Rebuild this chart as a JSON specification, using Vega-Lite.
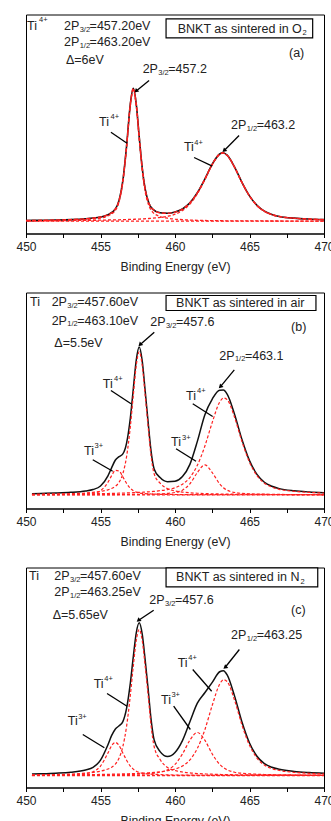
{
"$schema": "https://vega.github.io/schema/vega-lite/v6.json",
"padding": {"left": 15, "top": 13.5, "right": 0, "bottom": 0},
"background": "white",
"spacing": 18,
"config": {
  "font": "Liberation Sans",
  "view": {"stroke": "#000", "strokeWidth": 1},
  "axis": {"grid": false, "domainColor": "#000", "domainWidth": 1, "tickColor": "#000", "tickSize": 4, "tickWidth": 1, "labelFontSize": 12, "labelColor": "#222", "labelPadding": 4, "labelFlush": false, "labelOverlap": false, "titleFontSize": 12.3, "titleFontWeight": "normal", "titleColor": "#222", "titlePadding": 7, "minExtent": 20, "maxExtent": 20},
  "line": {"interpolate": "monotone"}
},
"datasets": {
  "spec": [
    {"p":"a","x":450,"env":0.75,"c1":0.33,"c2":0.42},
    {"p":"a","x":451,"env":0.9,"c1":0.42,"c2":0.48},
    {"p":"a","x":452,"env":1.18,"c1":0.62,"c2":0.56},
    {"p":"a","x":453,"env":1.61,"c1":0.94,"c2":0.67},
    {"p":"a","x":454,"env":2.43,"c1":1.59,"c2":0.84},
    {"p":"a","x":454.5,"env":3.12,"c1":2.2,"c2":0.92},
    {"p":"a","x":455,"env":4.25,"c1":3.2,"c2":1.05},
    {"p":"a","x":455.5,"env":6.48,"c1":5.3,"c2":1.18},
    {"p":"a","x":456,"env":12.22,"c1":10.9,"c2":1.32},
    {"p":"a","x":456.25,"env":21.0,"c1":19.6,"c2":1.42},
    {"p":"a","x":456.5,"env":40.5,"c1":39.0,"c2":1.54},
    {"p":"a","x":456.75,"env":75.1,"c1":73.5,"c2":1.64},
    {"p":"a","x":457,"env":116.9,"c1":115.1,"c2":1.77},
    {"p":"a","x":457.2,"env":132.9,"c1":131,"c2":1.89},
    {"p":"a","x":457.4,"env":117.1,"c1":115.1,"c2":2.0},
    {"p":"a","x":457.6,"env":84.1,"c1":82.0,"c2":2.13},
    {"p":"a","x":457.8,"env":53.3,"c1":51.0,"c2":2.28},
    {"p":"a","x":458,"env":32.0,"c1":29.5,"c2":2.46},
    {"p":"a","x":458.25,"env":18.0,"c1":15.3,"c2":2.72},
    {"p":"a","x":458.5,"env":12.1,"c1":9.1,"c2":2.99},
    {"p":"a","x":459,"env":8.4,"c1":4.7,"c2":3.73},
    {"p":"a","x":459.5,"env":7.9,"c1":3.0,"c2":4.89},
    {"p":"a","x":460,"env":9.1,"c1":2.1,"c2":7.0},
    {"p":"a","x":460.5,"env":12.2,"c1":1.5,"c2":10.7},
    {"p":"a","x":461,"env":18.3,"c1":1.1,"c2":17.2},
    {"p":"a","x":461.5,"env":28.4,"c1":0.9,"c2":27.5},
    {"p":"a","x":462,"env":42.0,"c1":0.7,"c2":41.3},
    {"p":"a","x":462.5,"env":57.1,"c1":0.6,"c2":56.5},
    {"p":"a","x":463,"env":67.2,"c1":0.5,"c2":66.7},
    {"p":"a","x":463.2,"env":68.45,"c1":0.45,"c2":68},
    {"p":"a","x":463.5,"env":66.0,"c1":0.4,"c2":65.6},
    {"p":"a","x":464,"env":54.05,"c1":0.35,"c2":53.7},
    {"p":"a","x":464.5,"env":38.6,"c1":0.3,"c2":38.3},
    {"p":"a","x":465,"env":25.27,"c1":0.27,"c2":25.0},
    {"p":"a","x":465.5,"env":15.85,"c1":0.25,"c2":15.6},
    {"p":"a","x":466,"env":10.02,"c1":0.22,"c2":9.8},
    {"p":"a","x":466.5,"env":6.7,"c1":0.2,"c2":6.5},
    {"p":"a","x":467,"env":4.78,"c1":0.18,"c2":4.6},
    {"p":"a","x":468,"env":3.06,"c1":0.16,"c2":2.9},
    {"p":"a","x":469,"env":2.14,"c1":0.14,"c2":2.0},
    {"p":"a","x":470,"env":1.58,"c1":0.12,"c2":1.46},

    {"p":"b","x":450.4,"env":1.14,"c1":0.45,"c2":0.14,"c3":0.48,"c4":0.07},
    {"p":"b","x":451,"env":1.35,"c1":0.54,"c2":0.18,"c3":0.55,"c4":0.08},
    {"p":"b","x":452,"env":1.77,"c1":0.76,"c2":0.26,"c3":0.65,"c4":0.1},
    {"p":"b","x":453,"env":2.45,"c1":1.1,"c2":0.46,"c3":0.77,"c4":0.12},
    {"p":"b","x":454,"env":3.83,"c1":1.8,"c2":0.95,"c3":0.93,"c4":0.15},
    {"p":"b","x":454.5,"env":5.25,"c1":2.45,"c2":1.6,"c3":1.03,"c4":0.17},
    {"p":"b","x":455,"env":8.81,"c1":3.33,"c2":4.1,"c3":1.18,"c4":0.2},
    {"p":"b","x":455.5,"env":19.02,"c1":4.98,"c2":12.5,"c3":1.31,"c4":0.23},
    {"p":"b","x":455.75,"env":27.21,"c1":6.38,"c2":19.2,"c3":1.39,"c4":0.24},
    {"p":"b","x":456,"env":34.79,"c1":8.54,"c2":24.5,"c3":1.49,"c4":0.26},
    {"p":"b","x":456.25,"env":38.16,"c1":12.6,"c2":23.7,"c3":1.58,"c4":0.28},
    {"p":"b","x":456.5,"env":40.91,"c1":21.0,"c2":17.9,"c3":1.7,"c4":0.31},
    {"p":"b","x":456.75,"env":51.76,"c1":38.2,"c2":11.4,"c3":1.83,"c4":0.33},
    {"p":"b","x":457,"env":76.57,"c1":67.7,"c2":6.5,"c3":1.99,"c4":0.38},
    {"p":"b","x":457.2,"env":105.8,"c1":99.2,"c2":4.1,"c3":2.1,"c4":0.4},
    {"p":"b","x":457.4,"env":134.78,"c1":129.4,"c2":2.7,"c3":2.25,"c4":0.43},
    {"p":"b","x":457.6,"env":147.79,"c1":143,"c2":1.9,"c3":2.39,"c4":0.5},
    {"p":"b","x":457.8,"env":133.93,"c1":129.4,"c2":1.44,"c3":2.56,"c4":0.53},
    {"p":"b","x":458,"env":103.67,"c1":99.2,"c2":1.14,"c3":2.75,"c4":0.58},
    {"p":"b","x":458.2,"env":72.19,"c1":67.7,"c2":0.95,"c3":2.92,"c4":0.62},
    {"p":"b","x":458.4,"env":42.86,"c1":38.2,"c2":0.8,"c3":3.15,"c4":0.71},
    {"p":"b","x":458.6,"env":25.91,"c1":21.0,"c2":0.69,"c3":3.45,"c4":0.77},
    {"p":"b","x":459,"env":17.23,"c1":11.6,"c2":0.51,"c3":4.13,"c4":0.99},
    {"p":"b","x":459.5,"env":13.11,"c1":6.1,"c2":0.39,"c3":5.24,"c4":1.38},
    {"p":"b","x":460,"env":13.55,"c1":3.9,"c2":0.3,"c3":7.06,"c4":2.29},
    {"p":"b","x":460.5,"env":18.22,"c1":2.7,"c2":0.23,"c3":10.65,"c4":4.64},
    {"p":"b","x":461,"env":30.43,"c1":2.0,"c2":0.19,"c3":17.29,"c4":10.95},
    {"p":"b","x":461.5,"env":53.41,"c1":1.54,"c2":0.15,"c3":29.52,"c4":22.2},
    {"p":"b","x":462,"env":79.83,"c1":1.2,"c2":0.13,"c3":48.5,"c4":30},
    {"p":"b","x":462.5,"env":95.74,"c1":1.0,"c2":0.11,"c3":72.43,"c4":22.2},
    {"p":"b","x":463,"env":104.65,"c1":0.82,"c2":0.1,"c3":92.78,"c4":10.95},
    {"p":"b","x":463.25,"env":104.72,"c1":0.74,"c2":0.09,"c3":96.79,"c4":7.1},
    {"p":"b","x":463.5,"env":100.62,"c1":0.69,"c2":0.09,"c3":95.2,"c4":4.64},
    {"p":"b","x":464,"env":80.33,"c1":0.57,"c2":0.08,"c3":77.39,"c4":2.29},
    {"p":"b","x":464.5,"env":54.97,"c1":0.49,"c2":0.07,"c3":53.03,"c4":1.38},
    {"p":"b","x":465,"env":34.16,"c1":0.43,"c2":0.06,"c3":32.68,"c4":0.99},
    {"p":"b","x":465.5,"env":20.38,"c1":0.39,"c2":0.06,"c3":19.19,"c4":0.74},
    {"p":"b","x":466,"env":12.58,"c1":0.35,"c2":0.05,"c3":11.6,"c4":0.58},
    {"p":"b","x":466.5,"env":8.56,"c1":0.31,"c2":0.05,"c3":7.7,"c4":0.5},
    {"p":"b","x":467,"env":6.18,"c1":0.28,"c2":0.04,"c3":5.48,"c4":0.38},
    {"p":"b","x":468,"env":3.98,"c1":0.24,"c2":0.03,"c3":3.45,"c4":0.26},
    {"p":"b","x":469,"env":2.83,"c1":0.21,"c2":0.03,"c3":2.39,"c4":0.2},
    {"p":"b","x":470,"env":2.11,"c1":0.18,"c2":0.02,"c3":1.76,"c4":0.15},

    {"p":"c","x":450.4,"env":1.46,"c1":0.57,"c2":0.26,"c3":0.45,"c4":0.18},
    {"p":"c","x":451,"env":1.74,"c1":0.72,"c2":0.32,"c3":0.5,"c4":0.2},
    {"p":"c","x":452,"env":2.33,"c1":0.99,"c2":0.5,"c3":0.6,"c4":0.24},
    {"p":"c","x":453,"env":3.28,"c1":1.43,"c2":0.84,"c3":0.71,"c4":0.3},
    {"p":"c","x":454,"env":5.5,"c1":2.37,"c2":1.89,"c3":0.86,"c4":0.38},
    {"p":"c","x":454.5,"env":8.11,"c1":3.07,"c2":3.66,"c3":0.95,"c4":0.43},
    {"p":"c","x":455,"env":15.34,"c1":4.29,"c2":9.46,"c3":1.08,"c4":0.51},
    {"p":"c","x":455.5,"env":30.79,"c1":6.5,"c2":22.5,"c3":1.21,"c4":0.58},
    {"p":"c","x":455.75,"env":40.07,"c1":8.26,"c2":29.9,"c3":1.28,"c4":0.63},
    {"p":"c","x":456,"env":46.56,"c1":11.5,"c2":33,"c3":1.36,"c4":0.7},
    {"p":"c","x":456.25,"env":49.71,"c1":17.6,"c2":29.9,"c3":1.46,"c4":0.75},
    {"p":"c","x":456.5,"env":53.89,"c1":29.0,"c2":22.5,"c3":1.56,"c4":0.83},
    {"p":"c","x":456.75,"env":67.1,"c1":49.2,"c2":15.3,"c3":1.68,"c4":0.92},
    {"p":"c","x":457,"env":92.18,"c1":79.9,"c2":9.46,"c3":1.81,"c4":1.01},
    {"p":"c","x":457.2,"env":118.54,"c1":109.1,"c2":6.4,"c3":1.93,"c4":1.11},
    {"p":"c","x":457.4,"env":142.69,"c1":135.1,"c2":4.33,"c3":2.05,"c4":1.21},
    {"p":"c","x":457.6,"env":152.63,"c1":146,"c2":3.1,"c3":2.2,"c4":1.33},
    {"p":"c","x":457.8,"env":141.27,"c1":135.1,"c2":2.34,"c3":2.37,"c4":1.46},
    {"p":"c","x":458,"env":115.16,"c1":109.1,"c2":1.89,"c3":2.54,"c4":1.63},
    {"p":"c","x":458.2,"env":86.0,"c1":79.9,"c2":1.54,"c3":2.73,"c4":1.83},
    {"p":"c","x":458.4,"env":55.45,"c1":49.2,"c2":1.3,"c3":2.89,"c4":2.06},
    {"p":"c","x":458.6,"env":35.6,"c1":29.0,"c2":1.12,"c3":3.12,"c4":2.36},
    {"p":"c","x":459,"env":23.9,"c1":16.0,"c2":0.84,"c3":3.78,"c4":3.28},
    {"p":"c","x":459.5,"env":18.96,"c1":7.9,"c2":0.63,"c3":4.78,"c4":5.65},
    {"p":"c","x":460,"env":23.05,"c1":5.0,"c2":0.5,"c3":6.45,"c4":11.1},
    {"p":"c","x":460.5,"env":34.91,"c1":3.5,"c2":0.4,"c3":9.51,"c4":21.5},
    {"p":"c","x":461,"env":53.78,"c1":2.56,"c2":0.32,"c3":15.6,"c4":35.3},
    {"p":"c","x":461.5,"env":72.34,"c1":1.97,"c2":0.27,"c3":27.1,"c4":43},
    {"p":"c","x":462,"env":82.71,"c1":1.58,"c2":0.23,"c3":45.6,"c4":35.3},
    {"p":"c","x":462.5,"env":93.18,"c1":1.28,"c2":0.2,"c3":70.2,"c4":21.5},
    {"p":"c","x":463,"env":103.75,"c1":1.07,"c2":0.18,"c3":91.4,"c4":11.1},
    {"p":"c","x":463.25,"env":104.85,"c1":0.98,"c2":0.17,"c3":95.8,"c4":7.9},
    {"p":"c","x":463.5,"env":100.6,"c1":0.89,"c2":0.16,"c3":93.9,"c4":5.65},
    {"p":"c","x":464,"env":79.38,"c1":0.76,"c2":0.14,"c3":75.2,"c4":3.28},
    {"p":"c","x":464.5,"env":53.18,"c1":0.66,"c2":0.13,"c3":50.2,"c4":2.19},
    {"p":"c","x":465,"env":32.52,"c1":0.57,"c2":0.12,"c3":30.2,"c4":1.63},
    {"p":"c","x":465.5,"env":19.28,"c1":0.51,"c2":0.11,"c3":17.4,"c4":1.26},
    {"p":"c","x":466,"env":11.97,"c1":0.46,"c2":0.1,"c3":10.4,"c4":1.01},
    {"p":"c","x":466.5,"env":8.23,"c1":0.41,"c2":0.09,"c3":6.9,"c4":0.83},
    {"p":"c","x":467,"env":6.19,"c1":0.37,"c2":0.08,"c3":5.04,"c4":0.7},
    {"p":"c","x":468,"env":4.01,"c1":0.31,"c2":0.07,"c3":3.12,"c4":0.51},
    {"p":"c","x":469,"env":2.9,"c1":0.26,"c2":0.06,"c3":2.2,"c4":0.38},
    {"p":"c","x":470,"env":2.17,"c1":0.22,"c2":0.05,"c3":1.6,"c4":0.3}
  ],
  "base": [
    {"p":"a","x":450,"y":0},{"p":"a","x":470,"y":0},
    {"p":"b","x":450.4,"y":0},{"p":"b","x":470,"y":0},
    {"p":"c","x":450.4,"y":0},{"p":"c","x":470,"y":0}
  ],
  "boxes": [
    {"p":"a","x":459.4,"x2":469.24,"y":202.4,"y2":183.4},
    {"p":"b","x":459.4,"x2":469.46,"y":199.3,"y2":184.3},
    {"p":"c","x":459.4,"x2":469.58,"y":207.7,"y2":188.7}
  ],
  "ann": [
    {"p":"a","k":"arrow","x":457.38,"y":130,"x2":458.26,"y2":140.7},
    {"p":"a","k":"line","x":456.78,"y":78,"x2":455.7,"y2":89},
    {"p":"a","k":"arrow","x":463.29,"y":70.5,"x2":464.3,"y2":85.7},
    {"p":"a","k":"line","x":462.5,"y":55,"x2":461.28,"y2":63.7},
    {"p":"b","k":"arrow","x":457.65,"y":150,"x2":458.61,"y2":162.6},
    {"p":"b","k":"line","x":457.05,"y":91,"x2":455.7,"y2":104.3},
    {"p":"b","k":"line","x":455.82,"y":23.6,"x2":454.48,"y2":35},
    {"p":"b","k":"line","x":462.53,"y":78.3,"x2":461.19,"y2":91},
    {"p":"b","k":"line","x":461.41,"y":33.6,"x2":460.07,"y2":46},
    {"p":"b","k":"arrow","x":463.04,"y":108,"x2":463.98,"y2":125},
    {"p":"c","k":"arrow","x":457.54,"y":155,"x2":458.57,"y2":165.3},
    {"p":"c","k":"arrow","x":463.36,"y":108,"x2":464.32,"y2":126},
    {"p":"c","k":"line","x":456.78,"y":69.3,"x2":455.44,"y2":82},
    {"p":"c","k":"line","x":455.26,"y":27.7,"x2":453.81,"y2":41},
    {"p":"c","k":"line","x":462.46,"y":84.3,"x2":461.19,"y2":106},
    {"p":"c","k":"line","x":461.03,"y":46,"x2":459.91,"y2":69.3}
  ],
  "lab": [
    {"p":"a","r":"m","x":450.07,"y":195.7,"t":"Ti"},
    {"p":"a","r":"s","x":450.87,"y":201.7,"t":"4+"},
    {"p":"a","r":"m","x":452.55,"y":195.7,"t":"2P"},
    {"p":"a","r":"s","x":453.6,"y":191.7,"t":"3/2"},
    {"p":"a","r":"m","x":454.27,"y":195.7,"t":"=457.20eV"},
    {"p":"a","r":"m","x":452.55,"y":179.7,"t":"2P"},
    {"p":"a","r":"s","x":453.6,"y":175.7,"t":"1/2"},
    {"p":"a","r":"m","x":454.27,"y":179.7,"t":"=463.20eV"},
    {"p":"a","r":"m","x":452.68,"y":161.7,"t":"Δ=6eV"},
    {"p":"a","r":"m","x":460.18,"y":192.7,"t":"BNKT as sintered in O"},
    {"p":"a","r":"s","x":468.56,"y":188.7,"t":"2"},
    {"p":"a","r":"m","x":467.65,"y":168.7,"t":"(a)"},
    {"p":"a","r":"m","x":457.83,"y":152.4,"t":"2P"},
    {"p":"a","r":"s","x":458.88,"y":148.7,"t":"3/2"},
    {"p":"a","r":"m","x":459.55,"y":152.4,"t":"=457.2"},
    {"p":"a","r":"m","x":454.9,"y":99,"t":"Ti"},
    {"p":"a","r":"s","x":455.67,"y":104.7,"t":"4+"},
    {"p":"a","r":"m","x":463.76,"y":96.7,"t":"2P"},
    {"p":"a","r":"s","x":464.81,"y":92.7,"t":"1/2"},
    {"p":"a","r":"m","x":465.48,"y":96.7,"t":"=463.2"},
    {"p":"a","r":"m","x":460.6,"y":74,"t":"Ti"},
    {"p":"a","r":"s","x":461.3,"y":78.7,"t":"4+"},

    {"p":"b","r":"m","x":450.27,"y":192.6,"t":"Ti"},
    {"p":"b","r":"m","x":451.72,"y":192.6,"t":"2P"},
    {"p":"b","r":"s","x":452.77,"y":188.8,"t":"3/2"},
    {"p":"b","r":"m","x":453.44,"y":192.6,"t":"=457.60eV"},
    {"p":"b","r":"m","x":451.72,"y":174.3,"t":"2P"},
    {"p":"b","r":"s","x":452.77,"y":170.5,"t":"1/2"},
    {"p":"b","r":"m","x":453.44,"y":174.3,"t":"=463.10eV"},
    {"p":"b","r":"m","x":451.9,"y":151.6,"t":"Δ=5.5eV"},
    {"p":"b","r":"m","x":460.07,"y":191.8,"t":"BNKT as sintered in air"},
    {"p":"b","r":"m","x":467.79,"y":167.6,"t":"(b)"},
    {"p":"b","r":"m","x":458.34,"y":172.6,"t":"2P"},
    {"p":"b","r":"s","x":459.39,"y":168.8,"t":"3/2"},
    {"p":"b","r":"m","x":460.06,"y":172.6,"t":"=457.6"},
    {"p":"b","r":"m","x":455.15,"y":111,"t":"Ti"},
    {"p":"b","r":"s","x":455.91,"y":116.3,"t":"4+"},
    {"p":"b","r":"m","x":453.89,"y":44.3,"t":"Ti"},
    {"p":"b","r":"s","x":454.6,"y":49.3,"t":"3+"},
    {"p":"b","r":"m","x":460.74,"y":99.3,"t":"Ti"},
    {"p":"b","r":"s","x":461.48,"y":104.3,"t":"4+"},
    {"p":"b","r":"m","x":459.73,"y":52.6,"t":"Ti"},
    {"p":"b","r":"s","x":460.47,"y":57.3,"t":"3+"},
    {"p":"b","r":"m","x":462.97,"y":139.3,"t":"2P"},
    {"p":"b","r":"s","x":464.02,"y":135.8,"t":"1/2"},
    {"p":"b","r":"m","x":464.69,"y":139.3,"t":"=463.1"},

    {"p":"c","r":"m","x":450.2,"y":200,"t":"Ti"},
    {"p":"c","r":"m","x":451.9,"y":200,"t":"2P"},
    {"p":"c","r":"s","x":452.95,"y":196,"t":"3/2"},
    {"p":"c","r":"m","x":453.62,"y":200,"t":"=457.60eV"},
    {"p":"c","r":"m","x":451.9,"y":183.3,"t":"2P"},
    {"p":"c","r":"s","x":452.95,"y":179.3,"t":"1/2"},
    {"p":"c","r":"m","x":453.62,"y":183.3,"t":"=463.25eV"},
    {"p":"c","r":"m","x":451.79,"y":161,"t":"Δ=5.65eV"},
    {"p":"c","r":"m","x":460.07,"y":198.7,"t":"BNKT as sintered in N"},
    {"p":"c","r":"s","x":468.42,"y":194,"t":"2"},
    {"p":"c","r":"m","x":467.79,"y":166,"t":"(c)"},
    {"p":"c","r":"m","x":458.28,"y":176,"t":"2P"},
    {"p":"c","r":"s","x":459.33,"y":172,"t":"3/2"},
    {"p":"c","r":"m","x":460.0,"y":176,"t":"=457.6"},
    {"p":"c","r":"m","x":463.76,"y":140.3,"t":"2P"},
    {"p":"c","r":"s","x":464.81,"y":136.5,"t":"1/2"},
    {"p":"c","r":"m","x":465.48,"y":140.3,"t":"=463.25"},
    {"p":"c","r":"m","x":454.54,"y":92,"t":"Ti"},
    {"p":"c","r":"s","x":455.25,"y":97,"t":"4+"},
    {"p":"c","r":"m","x":452.8,"y":54.3,"t":"Ti"},
    {"p":"c","r":"s","x":453.5,"y":59,"t":"3+"},
    {"p":"c","r":"m","x":460.18,"y":112.7,"t":"Ti"},
    {"p":"c","r":"s","x":460.89,"y":118,"t":"4+"},
    {"p":"c","r":"m","x":459.06,"y":76,"t":"Ti"},
    {"p":"c","r":"s","x":459.76,"y":81,"t":"3+"}
  ]
},
"vconcat": [
  {
    "width": 298, "height": 219,
    "encoding": {
      "x": {"field": "x", "type": "quantitative", "scale": {"domain": [450, 470], "nice": false, "zero": false}, "axis": {"title": "Binding Energy (eV)", "values": [450,452.5,455,457.5,460,462.5,465,467.5,470], "labelExpr": "datum.value % 5 == 0 ? format(datum.value, 'd') : ''"}},
      "y": {"field": "y", "type": "quantitative", "scale": {"domain": [-12.3, 206.7], "nice": false, "zero": false}, "axis": null}
    },
    "layer": [
      {"data": {"name": "boxes"}, "transform": [{"filter": "datum.p == 'a'"}], "mark": {"type": "rect", "fill": "#fff", "stroke": "#000", "strokeWidth": 1.2}, "encoding": {"x2": {"field": "x2"}, "y2": {"field": "y2"}}},
      {"data": {"name": "base"}, "transform": [{"filter": "datum.p == 'a'"}], "mark": {"type": "line", "color": "#ff2020", "strokeDash": [3, 2], "strokeWidth": 1.3}, "encoding": {}},
      {"data": {"name": "spec"}, "transform": [{"filter": "datum.p == 'a'"}, {"fold": ["env", "c1", "c2", "c3", "c4"], "as": ["s", "y"]}, {"filter": "isValid(datum.y) && datum.s == 'env'"}], "mark": {"type": "line", "color": "#111", "strokeWidth": 1.6}, "encoding": {}},
      {"data": {"name": "spec"}, "transform": [{"filter": "datum.p == 'a'"}, {"fold": ["env", "c1", "c2", "c3", "c4"], "as": ["s", "y"]}, {"filter": "isValid(datum.y) && datum.s == 'env'"}], "mark": {"type": "line", "color": "#ff2020", "strokeDash": [4, 2], "strokeWidth": 1.4}, "encoding": {}},
      {"data": {"name": "spec"}, "transform": [{"filter": "datum.p == 'a'"}, {"fold": ["env", "c1", "c2", "c3", "c4"], "as": ["s", "y"]}, {"filter": "isValid(datum.y) && datum.s != 'env'"}], "mark": {"type": "line", "color": "#ff2020", "strokeDash": [3, 2], "strokeDashOffset": 3, "strokeWidth": 1.3}, "encoding": {"detail": {"field": "s"}}},
      {"data": {"name": "ann"}, "transform": [{"filter": "datum.p == 'a'"}], "mark": {"type": "rule", "color": "#000", "strokeWidth": 1.3}, "encoding": {"x2": {"field": "x2"}, "y2": {"field": "y2"}}},
      {"data": {"name": "ann"}, "transform": [{"filter": "datum.p == 'a' && datum.k == 'arrow'"}], "mark": {"type": "point", "shape": "triangle-up", "angle": 228, "filled": true, "color": "#000", "opacity": 1, "size": 24}, "encoding": {}},
      {"data": {"name": "lab"}, "transform": [{"filter": "datum.p == 'a' && datum.r == 'm'"}], "mark": {"type": "text", "align": "left", "baseline": "middle", "fontSize": 12.5, "color": "#222"}, "encoding": {"text": {"field": "t"}}},
      {"data": {"name": "lab"}, "transform": [{"filter": "datum.p == 'a' && datum.r == 's'"}], "mark": {"type": "text", "align": "left", "baseline": "middle", "fontSize": 7.5, "color": "#222"}, "encoding": {"text": {"field": "t"}}}
    ]
  },
  {
    "width": 298, "height": 216,
    "encoding": {
      "x": {"field": "x", "type": "quantitative", "scale": {"domain": [450, 470], "nice": false, "zero": false}, "axis": {"title": "Binding Energy (eV)", "values": [450,452.5,455,457.5,460,462.5,465,467.5,470], "labelExpr": "datum.value % 5 == 0 ? format(datum.value, 'd') : ''"}},
      "y": {"field": "y", "type": "quantitative", "scale": {"domain": [-13.7, 202.3], "nice": false, "zero": false}, "axis": null}
    },
    "layer": [
      {"data": {"name": "boxes"}, "transform": [{"filter": "datum.p == 'b'"}], "mark": {"type": "rect", "fill": "#fff", "stroke": "#000", "strokeWidth": 1.2}, "encoding": {"x2": {"field": "x2"}, "y2": {"field": "y2"}}},
      {"data": {"name": "base"}, "transform": [{"filter": "datum.p == 'b'"}], "mark": {"type": "line", "color": "#ff2020", "strokeDash": [3, 2], "strokeWidth": 1.3}, "encoding": {}},
      {"data": {"name": "spec"}, "transform": [{"filter": "datum.p == 'b'"}, {"fold": ["env", "c1", "c2", "c3", "c4"], "as": ["s", "y"]}, {"filter": "isValid(datum.y) && datum.s == 'env'"}], "mark": {"type": "line", "color": "#111", "strokeWidth": 1.5}, "encoding": {}},
      {"data": {"name": "spec"}, "transform": [{"filter": "datum.p == 'b'"}, {"fold": ["env", "c1", "c2", "c3", "c4"], "as": ["s", "y"]}, {"filter": "isValid(datum.y) && datum.s != 'env'"}], "mark": {"type": "line", "color": "#ff2020", "strokeDash": [3, 2], "strokeWidth": 1.2}, "encoding": {"detail": {"field": "s"}}},
      {"data": {"name": "ann"}, "transform": [{"filter": "datum.p == 'b'"}], "mark": {"type": "rule", "color": "#000", "strokeWidth": 1.3}, "encoding": {"x2": {"field": "x2"}, "y2": {"field": "y2"}}},
      {"data": {"name": "ann"}, "transform": [{"filter": "datum.p == 'b' && datum.k == 'arrow'"}], "mark": {"type": "point", "shape": "triangle-up", "angle": 225, "filled": true, "color": "#000", "opacity": 1, "size": 24}, "encoding": {}},
      {"data": {"name": "lab"}, "transform": [{"filter": "datum.p == 'b' && datum.r == 'm'"}], "mark": {"type": "text", "align": "left", "baseline": "middle", "fontSize": 12.5, "color": "#222"}, "encoding": {"text": {"field": "t"}}},
      {"data": {"name": "lab"}, "transform": [{"filter": "datum.p == 'b' && datum.r == 's'"}], "mark": {"type": "text", "align": "left", "baseline": "middle", "fontSize": 7.5, "color": "#222"}, "encoding": {"text": {"field": "t"}}}
    ]
  },
  {
    "width": 298, "height": 220,
    "encoding": {
      "x": {"field": "x", "type": "quantitative", "scale": {"domain": [450, 470], "nice": false, "zero": false}, "axis": {"title": "Binding Energy (eV)", "values": [450,452.5,455,457.5,460,462.5,465,467.5,470], "labelExpr": "datum.value % 5 == 0 ? format(datum.value, 'd') : ''"}},
      "y": {"field": "y", "type": "quantitative", "scale": {"domain": [-12, 208], "nice": false, "zero": false}, "axis": null}
    },
    "layer": [
      {"data": {"name": "boxes"}, "transform": [{"filter": "datum.p == 'c'"}], "mark": {"type": "rect", "fill": "#fff", "stroke": "#000", "strokeWidth": 1.2}, "encoding": {"x2": {"field": "x2"}, "y2": {"field": "y2"}}},
      {"data": {"name": "base"}, "transform": [{"filter": "datum.p == 'c'"}], "mark": {"type": "line", "color": "#ff2020", "strokeDash": [3, 2], "strokeWidth": 1.3}, "encoding": {}},
      {"data": {"name": "spec"}, "transform": [{"filter": "datum.p == 'c'"}, {"fold": ["env", "c1", "c2", "c3", "c4"], "as": ["s", "y"]}, {"filter": "isValid(datum.y) && datum.s == 'env'"}], "mark": {"type": "line", "color": "#111", "strokeWidth": 1.5}, "encoding": {}},
      {"data": {"name": "spec"}, "transform": [{"filter": "datum.p == 'c'"}, {"fold": ["env", "c1", "c2", "c3", "c4"], "as": ["s", "y"]}, {"filter": "isValid(datum.y) && datum.s != 'env'"}], "mark": {"type": "line", "color": "#ff2020", "strokeDash": [3, 2], "strokeWidth": 1.2}, "encoding": {"detail": {"field": "s"}}},
      {"data": {"name": "ann"}, "transform": [{"filter": "datum.p == 'c'"}], "mark": {"type": "rule", "color": "#000", "strokeWidth": 1.3}, "encoding": {"x2": {"field": "x2"}, "y2": {"field": "y2"}}},
      {"data": {"name": "ann"}, "transform": [{"filter": "datum.p == 'c' && datum.k == 'arrow'"}], "mark": {"type": "point", "shape": "triangle-up", "angle": 230, "filled": true, "color": "#000", "opacity": 1, "size": 24}, "encoding": {}},
      {"data": {"name": "lab"}, "transform": [{"filter": "datum.p == 'c' && datum.r == 'm'"}], "mark": {"type": "text", "align": "left", "baseline": "middle", "fontSize": 12.5, "color": "#222"}, "encoding": {"text": {"field": "t"}}},
      {"data": {"name": "lab"}, "transform": [{"filter": "datum.p == 'c' && datum.r == 's'"}], "mark": {"type": "text", "align": "left", "baseline": "middle", "fontSize": 7.5, "color": "#222"}, "encoding": {"text": {"field": "t"}}}
    ]
  }
]
}
